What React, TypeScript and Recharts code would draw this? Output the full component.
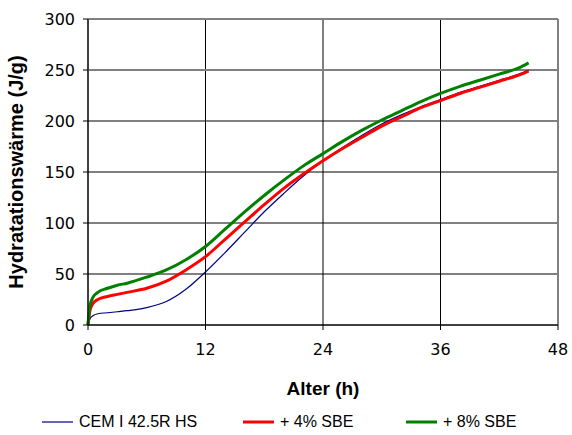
import React from 'react'
import {
  LineChart,
  Line,
  XAxis,
  YAxis,
  CartesianGrid,
  ReferenceLine,
  Legend,
} from 'recharts'

// Alter (h)
const hours = [0, 0.2, 0.5, 1, 2, 3, 4, 6, 8, 10, 12, 14, 16, 18, 20, 22, 24, 26, 28, 30, 32, 34, 36, 38, 40, 42, 44, 45]

// Hydratationswärme (J/g)
const cemValues = [0, 6, 9, 11, 12, 13, 14, 17, 23, 35, 52, 71, 91, 111, 129, 146, 161, 174, 186, 197, 206, 214, 221, 228, 234, 240, 246, 250]
const sbe4Values = [0, 14, 21, 25, 28, 30, 32, 36, 43, 54, 67, 84, 101, 118, 134, 148, 161, 173, 184, 195, 204, 213, 220, 227, 233, 239, 245, 249]
const sbe8Values = [0, 19, 27, 32, 36, 39, 41, 47, 54, 64, 77, 94, 111, 127, 142, 156, 168, 180, 191, 201, 210, 219, 227, 234, 240, 246, 252, 257]

const xTicks = [0, 12, 24, 36, 48]
const yTicks = [0, 50, 100, 150, 200, 250, 300]

const seriesInfo = [
  { key: 'cem', name: 'CEM I 42.5R HS', color: '#000080', width: 1.2 },
  { key: 'sbe4', name: '+ 4% SBE', color: '#ff0000', width: 3 },
  { key: 'sbe8', name: '+ 8% SBE', color: '#008000', width: 3 },
]

const data = hours.map((h, i) => ({
  h,
  cem: cemValues[i],
  sbe4: sbe4Values[i],
  sbe8: sbe8Values[i],
}))

const legendLeft = [42, 243, 406]

function LegendContent() {
  return (
    <div style={{ position: 'relative', height: 24, width: 572 }}>
      {seriesInfo.map((s, i) => (
        <div
          key={s.key}
          style={{
            position: 'absolute',
            left: legendLeft[i],
            top: 0,
            display: 'flex',
            alignItems: 'center',
            height: 24,
            fontFamily: '"Liberation Sans", Arial, sans-serif',
            fontSize: 16,
            color: '#000',
            whiteSpace: 'nowrap',
          }}
        >
          <svg width={31} height={6} style={{ marginRight: 6 }}>
            <line x1={0} y1={3} x2={31} y2={3} stroke={s.color} strokeWidth={s.width} />
          </svg>
          <span>{s.name}</span>
        </div>
      ))}
    </div>
  )
}

export default function App() {
  const tickStyle = { fontFamily: '"DejaVu Sans", Verdana, sans-serif', fontSize: 16, fill: '#000' }
  return (
    <div style={{ position: 'absolute', left: 0, top: 0, width: 572, height: 435, background: '#fff' }}>
      <LineChart width={572} height={435} data={data} margin={{ top: 19, right: 14, bottom: 1, left: 0 }}>
        <CartesianGrid stroke="#000" strokeWidth={1} horizontalValues={yTicks} verticalValues={xTicks} />
        <ReferenceLine y={250} stroke="#808080" strokeWidth={2} />
        <ReferenceLine y={300} stroke="#808080" strokeWidth={2} />
        <ReferenceLine x={48} stroke="#808080" strokeWidth={2} />
        <XAxis
          dataKey="h"
          type="number"
          domain={[0, 48]}
          ticks={xTicks}
          height={85}
          tickSize={5}
          tickMargin={14}
          stroke="#000"
          tick={tickStyle}
          label={{
            value: 'Alter (h)',
            position: 'insideBottom',
            offset: 15,
            style: { fontFamily: '"Liberation Sans", Arial, sans-serif', fontWeight: 'bold', fontSize: 19, fill: '#000' },
          }}
        />
        <YAxis
          type="number"
          domain={[0, 300]}
          ticks={yTicks}
          width={88}
          tickSize={5}
          tickMargin={8}
          stroke="#000"
          tick={tickStyle}
          label={{
            value: 'Hydratationswärme (J/g)',
            angle: -90,
            position: 'insideLeft',
            offset: 16,
            style: { textAnchor: 'middle', fontFamily: '"Liberation Sans", Arial, sans-serif', fontWeight: 'bold', fontSize: 20, fill: '#000' },
          }}
        />
        <Legend verticalAlign="bottom" height={24} content={<LegendContent />} wrapperStyle={{ left: 0, width: 572 }} />
        {seriesInfo.map((s) => (
          <Line
            key={s.key}
            type="monotone"
            dataKey={s.key}
            name={s.name}
            stroke={s.color}
            strokeWidth={s.width}
            dot={false}
            isAnimationActive={false}
          />
        ))}
      </LineChart>
    </div>
  )
}
